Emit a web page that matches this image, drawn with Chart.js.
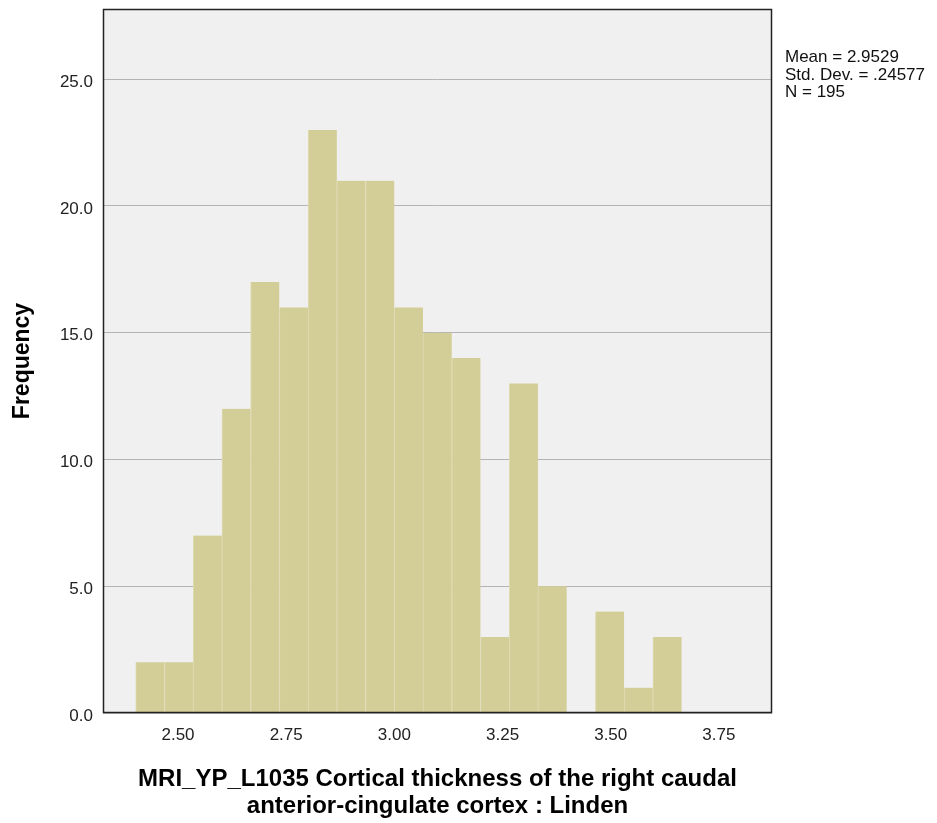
<!DOCTYPE html>
<html>
<head>
<meta charset="utf-8">
<script src="https://cdn.jsdelivr.net/npm/chart.js@4/dist/chart.umd.min.js"></script>
<style>
  html, body { margin:0; padding:0; background:#fff; }
  #wrap { width:937px; height:823px; position:relative; }
</style>
</head>
<body>
<div id="wrap"><canvas id="hist"></canvas></div>
<script>
// bin centres (thickness, mm) and counts
const binCenters = [2.4354, 2.5018, 2.5682, 2.6346, 2.7010, 2.7674, 2.8338, 2.9002, 2.9666, 3.0330,
                    3.0994, 3.1658, 3.2322, 3.2986, 3.3650, 3.4314, 3.4978, 3.5642, 3.6306];
const counts = [2, 2, 7, 12, 17, 16, 23, 21, 21, 16, 15, 14, 3, 13, 5, 0, 4, 1, 3];
const xTicks = [2.50, 2.75, 3.00, 3.25, 3.50, 3.75];
const yTicks = [0, 5, 10, 15, 20, 25];
const statsLines = ['Mean = 2.9529', 'Std. Dev. = .24577', 'N = 195'];
const xTitle = ['MRI_YP_L1035 Cortical thickness of the right caudal', 'anterior-cingulate cortex : Linden'];
const yTitle = 'Frequency';

const FONT = '"Liberation Sans", Arial, sans-serif';

const plotFrame = {
  id: 'plotFrame',
  beforeDraw(chart) {
    const {ctx, chartArea:a} = chart;
    ctx.save();
    ctx.fillStyle = '#f0f0f0';
    ctx.fillRect(a.left, a.top, a.right-a.left, a.bottom-a.top);
    ctx.restore();
  },
  afterDraw(chart) {
    const {ctx, chartArea:a} = chart;
    ctx.save();
    ctx.strokeStyle = '#222';
    ctx.lineWidth = 1.5;
    ctx.strokeRect(a.left+0.5, a.top+0.5, a.right-a.left-1, a.bottom-a.top-1);
    // summary statistics to the right of the plot
    ctx.fillStyle = '#111';
    ctx.font = '17px ' + FONT;
    ctx.textBaseline = 'alphabetic';
    statsLines.forEach((s,i)=>ctx.fillText(s, a.right+13, 62 + i*17.5));
    ctx.restore();
  }
};

const data = binCenters.map((x,i)=>({x:x, y:counts[i]}));

new Chart(document.getElementById('hist'), {
  type: 'bar',
  data: {
    datasets: [{
      data: data,
      backgroundColor: '#d3ce98',
      borderColor: '#e0dcb4',
      borderWidth: {left:1, right:0, top:0, bottom:0},
      borderSkipped: false,
      barPercentage: 1,
      categoryPercentage: 1
    }]
  },
  options: {
    responsive: true,
    maintainAspectRatio: false,
    animation: false,
    layout: { autoPadding: false, padding: {top:9, right:165, left:0, bottom:0} },
    plugins: { legend:{display:false}, tooltip:{enabled:false} },
    scales: {
      x: {
        type: 'linear',
        offset: false,
        min: 2.3266, max: 3.8727,
        afterBuildTicks: axis => { axis.ticks = xTicks.map(v=>({value:v})); },
        afterFit: scale => { scale.height = 110; scale.paddingLeft = 0; scale.paddingRight = 0; },
        grid: { display:false, drawTicks:false },
        border: { display:false },
        ticks: {
          padding: 12, color:'#222',
          font: { family: FONT, size: 17 },
          callback: v => v.toFixed(2),
          maxRotation: 0
        },
        title: {
          display: true, text: xTitle, color:'#000',
          font: { family: FONT, size: 24, weight:'bold', lineHeight: 1.12 },
          padding: { top:0, bottom:3 }
        }
      },
      y: {
        min: 0, max: 27.77,
        afterBuildTicks: axis => { axis.ticks = yTicks.map(v=>({value:v})); },
        afterFit: scale => { scale.width = 103; scale.paddingTop = 0; scale.paddingBottom = 0; },
        grid: { color:'#b4b4b4', lineWidth:1, drawTicks:false },
        border: { display:false },
        ticks: {
          padding: 10, color:'#222', labelOffset: 3,
          font: { family: FONT, size: 17 },
          callback: v => v.toFixed(1)
        },
        title: {
          display: true, text: yTitle, color:'#000',
          font: { family: FONT, size: 23, weight:'bold', lineHeight: 1.2 },
          padding: { top:9, bottom:0 }
        }
      }
    }
  },
  plugins: [plotFrame]
});
</script>
</body>
</html>
